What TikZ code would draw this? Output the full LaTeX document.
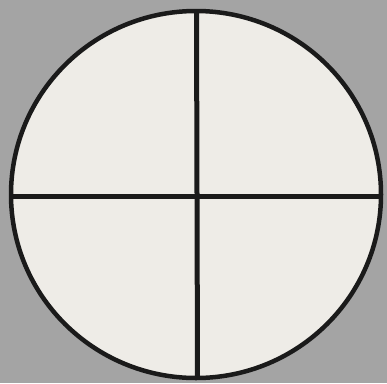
\documentclass[tikz,border=0pt]{standalone}
\definecolor{bggray}{HTML}{A4A4A4}
\definecolor{paper}{HTML}{EEECE7}
\definecolor{ink}{HTML}{1A1A1A}
\tikzset{
  discline/.style={draw=ink, fill=paper, line width=4.5pt},
  crossline/.style={draw=ink, line width=5pt}
}
\begin{document}
\begin{tikzpicture}[x=1pt,y=-1pt]
\fill[bggray] (0,0) rectangle (387,383);
\useasboundingbox (0,0) rectangle (387,383);
\path[discline] (196,194.5) ellipse [x radius=185, y radius=183.5];
\coordinate (top) at (196.5,11);
\coordinate (bottom) at (197.5,378);
\coordinate (left) at (11,196.5);
\coordinate (right) at (381,196.5);
\draw[crossline] (top) -- (bottom);
\draw[crossline] (left) -- (right);
\end{tikzpicture}
\end{document}
